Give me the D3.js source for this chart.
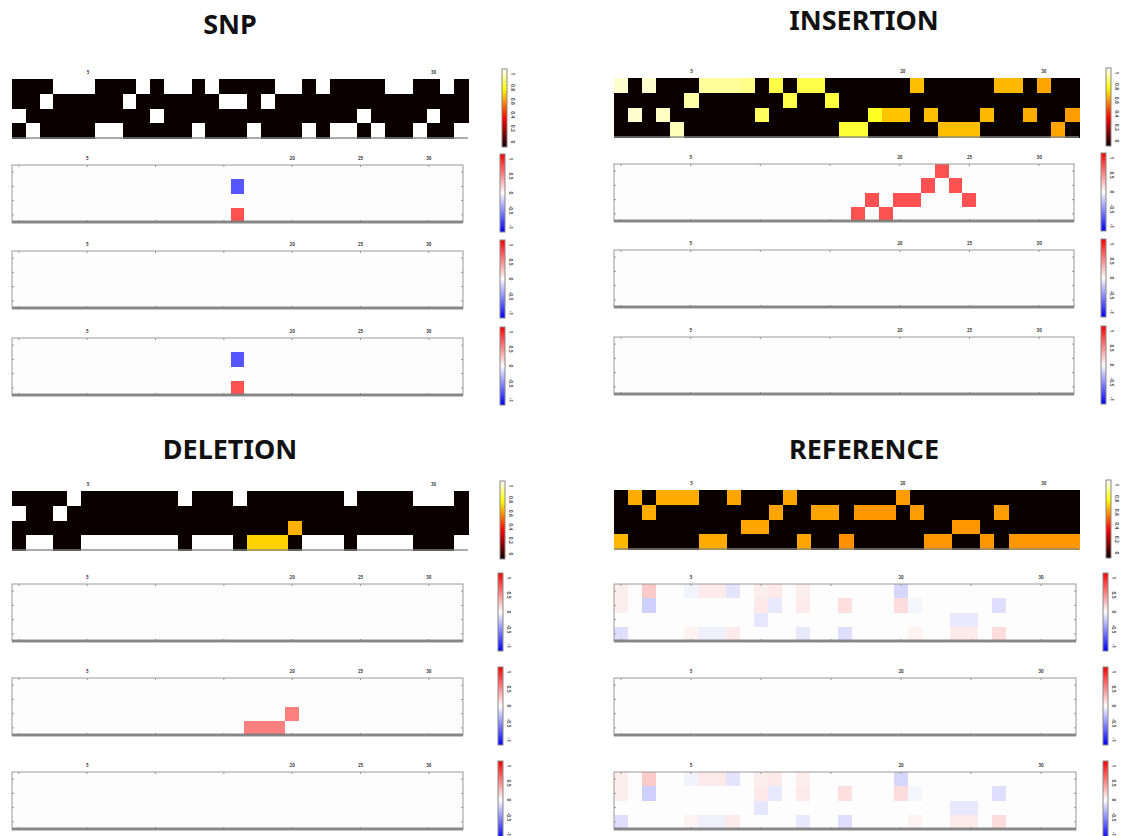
<!DOCTYPE html>
<html>
<head>
<meta charset="utf-8">
<script src="https://cdn.jsdelivr.net/npm/d3@7"></script>
<style>
  body { margin: 0; background: #fff; }
  svg { display: block; font-family: 'Noto Sans', 'DejaVu Sans', sans-serif; }
</style>
</head>
<body>
<svg id="chart" width="1122" height="836"></svg>
<script>
const positions = d3.range(33);
const bases = ['A', 'C', 'G', 'T'];

// row of the base that is lit at each position
const snpSeq = [2,3,1,0,0,0,3,3,1,0,2,0,0,3,0,1,1,3,1,0,0,3,0,3,3,2,3,0,0,3,2,0,3];
const insSeq = [0,2,0,2,3,1,0,0,0,0,2,0,1,0,0,1,3,3,2,2,2,0,2,3,3,3,2,0,0,2,0,3,2];
const delSeq = [1,3,3,1,0,3,3,3,3,3,3,3,0,3,3,3,0,3,3,3,2,3,3,3,0,3,3,3,3,0,0,0,3];
const refSeq = [3,0,1,0,0,0,3,3,0,2,2,1,0,3,1,1,3,1,1,1,0,1,3,3,2,2,3,1,3,3,3,3,3];

// intensity of the lit base at each position
const snpVal = positions.map(() => 1);
const insVal = [0.95,0.95,0.95,0.94,0.93,0.91,0.9,0.9,0.9,0.88,0.84,0.82,0.82,0.82,0.82,0.81,0.8,0.8,0.78,
                0.66,0.66,0.65,0.65,0.65,0.65,0.65,0.64,0.64,0.64,0.62,0.61,0.61,0.6];
const delVal = [1,1,1,1,1,1,1,1,1,1,1,1,1,1,1,1,1,0.68,0.68,0.68,0.63,1,1,1,1,1,1,1,1,1,1,1,1];
const refVal = [0.64,0.62,0.62,0.62,0.62,0.62,0.62,0.62,0.61,0.61,0.61,0.61,0.61,0.61,0.61,0.61,0.58,
                0.59,0.59,0.59,0.6,0.6,0.59,0.59,0.59,0.59,0.59,0.6,0.59,0.59,0.59,0.59,0.59];

// difference maps: [position, row, value]
const snpDiffA = [[16,1,-0.66],[16,3,0.68]];
const snpDiffB = [];
const snpDiffC = [[16,1,-0.66],[16,3,0.68]];
const insDiffA = [[23,0,0.68],[22,1,0.68],[24,1,0.68],[18,2,0.68],[20,2,0.68],[21,2,0.68],[25,2,0.68],[17,3,0.68],[19,3,0.68]];
const insDiffB = [];
const insDiffC = [];
const delDiffA = [];
const delDiffB = [[20,2,0.5],[17,3,0.5],[18,3,0.5],[19,3,0.5]];
const delDiffC = [];
const refDiffA = [
  [0,0,0.06],[2,0,0.2],[5,0,-0.04],[6,0,0.07],[7,0,0.07],[8,0,-0.1],[10,0,0.06],[11,0,0.08],[13,0,0.06],[20,0,-0.15],
  [0,1,0.06],[2,1,-0.18],[10,1,0.08],[11,1,-0.08],[13,1,0.07],[16,1,0.12],[20,1,0.13],[21,1,-0.03],[27,1,-0.12],
  [10,2,-0.09],[24,2,-0.08],[25,2,-0.08],
  [0,3,-0.12],[5,3,0.04],[6,3,-0.05],[7,3,-0.05],[8,3,0.07],[13,3,-0.08],[16,3,-0.12],[21,3,0.04],[24,3,0.07],[25,3,0.07],[27,3,0.13]
];
const refDiffB = [];
const refDiffC = refDiffA;

const tickPos = [0, 5, 10, 15, 20, 25, 30];
const hotTicks = ['1', '0.8', '0.6', '0.4', '0.2', '0'];
const bwrTicks = ['1', '0.5', '0', '-0.5', '-1'];

const panels = [
  { title: 'SNP', seq: snpSeq, val: snpVal, diffs: [snpDiffA, snpDiffB, snpDiffC],
    left: 12, right: 468, dRight: 463, titleX: 230, titleY: 34, hmTop: 79, diffTops: [165, 251, 338],
    hmCb: 502, dCb: 500, hmLabels: [5, 30], dLabels: [5, 20, 25, 30] },
  { title: 'INSERTION', seq: insSeq, val: insVal, diffs: [insDiffA, insDiffB, insDiffC],
    left: 614, right: 1079, dRight: 1074, titleX: 864, titleY: 30, hmTop: 78, diffTops: [164, 250, 337],
    hmCb: 1106, dCb: 1101, hmLabels: [5, 20, 30], dLabels: [5, 20, 25, 30] },
  { title: 'DELETION', seq: delSeq, val: delVal, diffs: [delDiffA, delDiffB, delDiffC],
    left: 12, right: 468, dRight: 463, titleX: 230, titleY: 459, hmTop: 491, diffTops: [584, 678, 772],
    hmCb: 500, dCb: 498, hmLabels: [5, 30], dLabels: [5, 20, 25, 30] },
  { title: 'REFERENCE', seq: refSeq, val: refVal, diffs: [refDiffA, refDiffB, refDiffC],
    left: 614, right: 1079, dRight: 1076, titleX: 864, titleY: 459, hmTop: 490, diffTops: [584, 678, 772],
    hmCb: 1106, dCb: 1103, hmLabels: [5, 20, 30], dLabels: [5, 20, 30] }
];

const HM_H = 59, D_H = 57;

const clamp = v => Math.max(0, Math.min(1, v));
const hot = v => d3.rgb(255 * clamp(0.0416 + v / 0.365 * 0.9584),
                        255 * clamp((v - 0.365) / 0.381),
                        255 * clamp((v - 0.746) / 0.254)).toString();
const bwr = d3.scaleLinear().domain([-1, 0, 1]).range(['#0000ff', '#fdfdfd', '#ff0000']).clamp(true);

const svg = d3.select('#chart');

const defs = svg.append('defs');
const hotGrad = defs.append('linearGradient').attr('id', 'hotGrad')
  .attr('x1', 0).attr('y1', 1).attr('x2', 0).attr('y2', 0);
d3.range(0, 1.001, 0.05).forEach(t => hotGrad.append('stop').attr('offset', t).attr('stop-color', hot(t)));
const bwrGrad = defs.append('linearGradient').attr('id', 'bwrGrad')
  .attr('x1', 0).attr('y1', 1).attr('x2', 0).attr('y2', 0);
d3.range(0, 1.001, 0.1).forEach(t => bwrGrad.append('stop').attr('offset', t).attr('stop-color', bwr(t * 2 - 1)));

function colorbar(g, x, y0, y1, grad, labels) {
  g.append('rect')
    .attr('x', x).attr('y', y0).attr('width', 5).attr('height', y1 - y0)
    .attr('fill', `url(#${grad})`).attr('stroke', '#888').attr('stroke-width', 1);
  const s = d3.scalePoint().domain(labels).range([y0 + 5, y1 - 5]);
  // labels are tiny and turned on their side
  g.selectAll(null).data(labels).join('text')
    .attr('transform', d => `translate(${x + 8},${s(d)}) rotate(90)`)
    .attr('text-anchor', 'middle').attr('dy', '-0.1em')
    .attr('font-size', 5).attr('font-weight', 'bold').attr('fill', '#555')
    .text(d => d);
}

function topLabels(g, x, y, cells) {
  g.selectAll(null).data(cells).join('text')
    .attr('x', d => x(d) + x.bandwidth() / 2).attr('y', y)
    .attr('text-anchor', 'middle').attr('font-size', 4.5).attr('font-weight', 'bold').attr('fill', '#444')
    .text(d => d);
}

panels.forEach(p => {
  const g = svg.append('g');

  g.append('text')
    .attr('x', p.titleX).attr('y', p.titleY)
    .attr('text-anchor', 'middle').attr('font-size', 27).attr('font-weight', 'bold')
    .attr('fill', '#111')
    .text(p.title);

  // one-hot sequence map
  const x = d3.scaleBand().domain(positions).range([p.left, p.right]);
  const y = d3.scaleBand().domain(d3.range(4)).range([p.hmTop, p.hmTop + HM_H]);
  const cells = positions.flatMap(c => d3.range(4).map(r => ({ c, r, v: p.seq[c] === r ? p.val[c] : 0 })));
  g.append('g').attr('shape-rendering', 'crispEdges')
    .selectAll('rect').data(cells).join('rect')
    .attr('x', d => x(d.c)).attr('y', d => y(d.r))
    .attr('width', x.bandwidth() + 0.5).attr('height', y.bandwidth() + 0.5)
    .attr('fill', d => hot(d.v));
  g.append('line')
    .attr('x1', p.left).attr('x2', p.right)
    .attr('y1', p.hmTop + HM_H).attr('y2', p.hmTop + HM_H)
    .attr('stroke', '#888').attr('stroke-opacity', 0.7).attr('stroke-width', 2);
  topLabels(g, x, p.hmTop - 5, p.hmLabels);
  colorbar(g, p.hmCb, p.hmTop - 10, p.hmTop + HM_H + 9, 'hotGrad', hotTicks);

  // difference maps
  p.diffs.forEach((diff, i) => {
    const top = p.diffTops[i];
    const dx = d3.scaleBand().domain(positions).range([p.left, p.dRight]);
    const dy = d3.scaleBand().domain(d3.range(4)).range([top, top + D_H]);
    const dg = g.append('g');

    dg.append('rect')
      .attr('x', p.left).attr('y', top).attr('width', p.dRight - p.left).attr('height', D_H)
      .attr('fill', bwr(0));
    dg.append('g').attr('shape-rendering', 'crispEdges')
      .selectAll('rect').data(diff).join('rect')
      .attr('x', d => dx(d[0])).attr('y', d => dy(d[1]))
      .attr('width', dx.bandwidth()).attr('height', dy.bandwidth())
      .attr('fill', d => bwr(d[2]));

    const ticked = a => a.call(s => s.select('.domain').remove())
      .call(s => s.selectAll('line').attr('stroke', '#999'))
      .call(s => s.selectAll('text').remove());
    dg.append('g').attr('transform', `translate(0,${top})`)
      .call(d3.axisTop(dx).tickValues(tickPos).tickSize(-2).offset(0))
      .call(ticked);
    dg.append('g').attr('transform', `translate(0,${top + D_H})`)
      .call(d3.axisBottom(dx).tickValues(tickPos).tickSize(-2).offset(0))
      .call(ticked);
    dg.append('g').attr('transform', `translate(${p.left},0)`)
      .call(d3.axisLeft(dy).tickSize(-2).offset(0)).call(ticked);
    dg.append('g').attr('transform', `translate(${p.dRight},0)`)
      .call(d3.axisRight(dy).tickSize(-2).offset(0)).call(ticked);

    dg.append('rect')
      .attr('x', p.left).attr('y', top).attr('width', p.dRight - p.left).attr('height', D_H)
      .attr('fill', 'none').attr('stroke', '#999').attr('stroke-width', 1);
    dg.append('line')
      .attr('x1', p.left).attr('x2', p.dRight).attr('y1', top + D_H).attr('y2', top + D_H)
      .attr('stroke', '#7a7a7a').attr('stroke-opacity', 0.85).attr('stroke-width', 3);

    topLabels(dg, dx, top - 5, p.dLabels);
    colorbar(dg, p.dCb, top - 11, top + D_H + 10, 'bwrGrad', bwrTicks);
  });
});
</script>
</body>
</html>
